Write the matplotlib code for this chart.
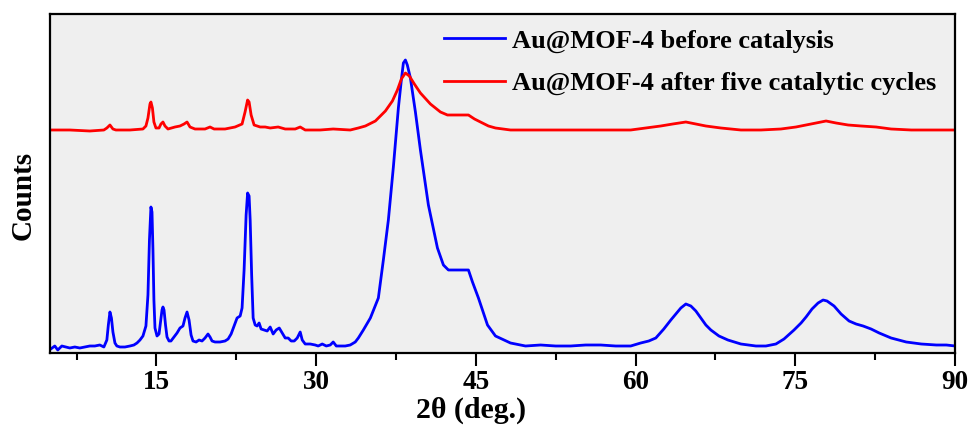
import matplotlib
matplotlib.use("Agg")
import matplotlib.pyplot as plt
from matplotlib.ticker import MultipleLocator, NullLocator

plt.rcParams['font.family'] = ['Liberation Serif', 'DejaVu Serif']
plt.rcParams['font.weight'] = 'bold'

# ---- data ----
before_x = [5.07, 5.45, 5.73, 6.11, 6.49, 6.86, 7.33, 7.80, 8.27, 8.74, 9.21, 9.68, 10.06,
            10.34, 10.48, 10.63, 10.77, 10.91, 11.10, 11.28, 11.57, 12.04, 12.51, 12.88, 13.17,
            13.45, 13.73, 14.01, 14.20, 14.34, 14.48, 14.58, 14.67, 14.76, 14.86, 15.05, 15.24,
            15.38, 15.52, 15.61, 15.71, 15.85, 15.99, 16.18, 16.36, 16.65, 16.93, 17.21, 17.49,
            17.68, 17.87, 18.06, 18.25, 18.43, 18.72, 19.00, 19.28, 19.56, 19.84, 20.03, 20.22,
            20.50, 20.97, 21.44, 21.73, 22.01, 22.29, 22.57, 22.86, 23.04, 23.23, 23.42, 23.56,
            23.70, 23.80, 23.94, 24.08, 24.27, 24.45, 24.64, 24.83, 25.11, 25.40, 25.68, 25.96,
            26.24, 26.53, 26.81, 27.09, 27.37, 27.65, 27.94, 28.22, 28.50, 28.69, 28.97, 29.44,
            29.91, 30.19, 30.57, 30.95, 31.32, 31.60, 31.89, 32.26, 32.73, 33.20, 33.67, 33.96,
            34.43, 35.09, 35.84, 36.31, 36.78, 37.25, 37.72, 38.00, 38.19, 38.38, 38.56, 38.85,
            39.32, 39.79, 40.54, 41.39, 41.95, 42.42, 43.36, 44.30, 44.68, 45.24, 46.09, 46.84,
            48.25, 49.66, 51.08, 52.49, 53.90, 55.31, 56.72, 58.13, 59.54, 60.48, 61.24, 61.90,
            62.65, 63.31, 63.78, 64.25, 64.72, 65.19, 65.66, 66.13, 66.60, 67.07, 67.83, 68.67,
            69.89, 71.30, 72.24, 73.18, 73.94, 74.88, 75.54, 76.01, 76.57, 77.14, 77.61, 77.98,
            78.64, 79.30, 80.05, 80.71, 81.37, 82.12, 82.88, 84.00, 85.42, 86.83, 88.25, 89.19,
            90.03]
before_y = [4, 7, 3, 7, 6, 5, 6, 5, 6, 7, 7, 8, 6,
            13, 28, 41, 35, 21, 10, 7, 6, 6, 7, 8, 10,
            13, 17, 27, 58, 113, 146, 141, 103, 53, 25, 17, 19,
            31, 43, 46, 43, 28, 16, 12, 12, 16, 20, 25, 27,
            35, 41, 33, 18, 12, 11, 13, 12, 15, 19, 16, 12,
            11, 11, 12, 14, 19, 27, 35, 37, 45, 83, 138, 160,
            157, 133, 78, 35, 28, 27, 30, 24, 23, 22, 26, 19,
            23, 25, 20, 15, 15, 12, 12, 15, 21, 13, 9, 9,
            8, 7, 9, 7, 8, 11, 7, 7, 7, 8, 11, 15,
            23, 35, 55, 93, 133, 186, 245, 273, 290, 293, 288, 275,
            241, 203, 148, 105, 88, 83, 83, 83, 71, 55, 28, 17,
            10, 7, 8, 7, 7, 8, 8, 7, 7, 10, 12, 15,
            24, 33, 39, 45, 49, 47, 42, 35, 28, 23, 17, 13,
            9, 7, 7, 9, 14, 23, 30, 36, 44, 50, 53, 52,
            47, 39, 32, 29, 27, 24, 20, 15, 11, 9, 8, 8,
            7]

after_x = [5.07, 6.86, 8.74, 10.06, 10.34, 10.63, 10.91, 11.19, 12.51, 13.73, 14.01, 14.20,
           14.39, 14.48, 14.62, 14.76, 14.95, 15.24, 15.42, 15.61, 15.80, 16.08, 16.74, 17.21,
           17.59, 17.87, 18.15, 18.62, 19.56, 20.03, 20.41, 21.44, 22.38, 23.04, 23.32, 23.56,
           23.70, 23.89, 24.17, 24.74, 25.21, 25.68, 26.43, 27.09, 28.03, 28.50, 28.97, 30.38,
           31.60, 33.20, 33.96, 34.62, 35.56, 36.50, 37.16, 37.63, 38.00, 38.38, 38.75, 39.22,
           39.79, 40.73, 41.67, 42.33, 43.36, 44.30, 44.87, 45.43, 46.18, 46.84, 48.25, 50.13,
           52.02, 53.90, 55.78, 57.66, 59.54, 60.95, 62.36, 63.49, 64.72, 65.66, 66.60, 68.01,
           69.89, 71.77, 73.65, 75.06, 76.48, 77.89, 78.83, 79.96, 81.18, 82.59, 84.00, 85.89,
           87.77, 90.03]
after_y = [223, 223, 222, 223, 225, 228, 224, 223, 223, 224, 227, 235,
           249, 251, 245, 231, 225, 225, 229, 231, 227, 224, 226, 227,
           229, 231, 226, 224, 224, 226, 224, 224, 226, 229, 241, 253,
           251, 238, 228, 226, 226, 225, 226, 224, 224, 226, 223, 223,
           224, 223, 225, 227, 232, 242, 252, 263, 274, 280, 277, 269,
           260, 249, 241, 238, 238, 238, 234, 231, 227, 225, 223, 223,
           223, 223, 223, 223, 223, 225, 227, 229, 231, 229, 227, 225,
           223, 223, 224, 226, 229, 232, 230, 228, 227, 226, 224, 223,
           223, 223]

labels = ["Au@MOF-4 before catalysis", "Au@MOF-4 after five catalytic cycles"]
colors = ["#0000ff", "#ff0000"]
xticks_major = [15, 30, 45, 60, 75, 90]

# ---- figure ----
fig = plt.figure(figsize=(9.69, 4.26), dpi=100)
ax = fig.add_axes([50/969, 1-353/426, 905/969, 339/426])
ax.set_facecolor("#efefef")

ax.plot(before_x, before_y, color=colors[0], lw=2.0, label=labels[0])
ax.plot(after_x, after_y, color=colors[1], lw=2.0, label=labels[1])

ax.set_xlim(5, 90)
ax.set_ylim(0, 339)
ax.set_xticks(xticks_major)
ax.xaxis.set_minor_locator(MultipleLocator(7.5))
ax.yaxis.set_major_locator(NullLocator())
ax.tick_params(axis='x', which='major', length=9.5, width=1.5, direction='out',
               labelsize=19.5, pad=3)
ax.tick_params(axis='x', which='minor', length=5, width=1.5, direction='out')
for lab in ax.get_xticklabels():
    lab.set_fontweight('bold')
for s in ax.spines.values():
    s.set_linewidth(1.6)
    s.set_color('black')

ax.set_xlabel("2θ (deg.)", fontsize=21.5, fontweight='bold', labelpad=0)
ax.xaxis.set_label_coords((471-50)/905, -0.128)
ax.xaxis.label.set_va('top')
ax.set_ylabel("Counts", fontsize=21, fontweight='bold', labelpad=10)
ax.yaxis.set_label_coords((37-50)/905, (353-195)/339)

leg = ax.legend(loc='upper left', bbox_to_anchor=((444-50)/905, (353-29)/339),
                frameon=False, fontsize=19, handlelength=2.3, handletextpad=0.26,
                labelspacing=0.72, borderpad=0, borderaxespad=0)
for t in leg.get_texts():
    t.set_fontweight('bold')

fig.savefig("out.png", dpi=100)
